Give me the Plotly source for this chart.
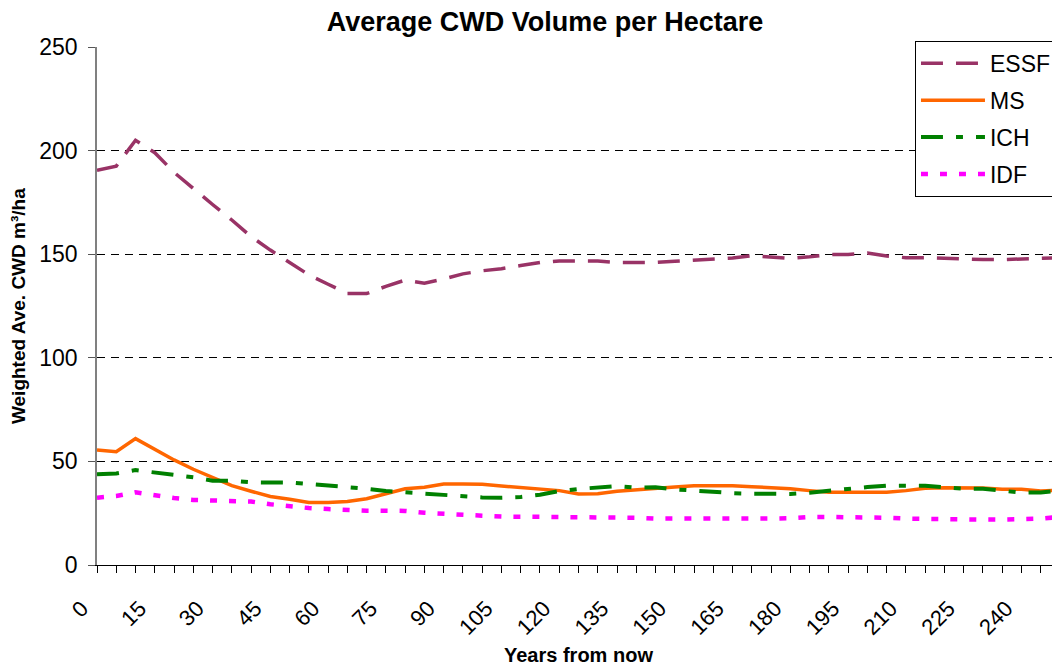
import plotly.graph_objects as go

years = [0, 5, 10, 15, 20, 25, 30, 35, 40, 45, 50, 55, 60, 65, 70, 75, 80, 85, 90, 95,
         100, 105, 110, 115, 120, 125, 130, 135, 140, 145, 150, 155, 160, 165, 170, 175,
         180, 185, 190, 195, 200, 205, 210, 215, 220, 225, 230, 235, 240, 245, 250]

essf = [190.5, 192.5, 205, 199, 189.5, 181.5, 174, 166.5, 158.5, 152, 146, 140, 135.5, 131, 131,
        134.5, 137.5, 136, 138, 140.5, 142, 143, 144.5, 146, 146.7, 146.8, 146.7, 146, 146, 146,
        146.6, 147.1, 147.7, 148.2, 149.3, 148.8, 148, 148.8, 149.8, 149.8, 150.6, 149.1, 148.3,
        148.3, 148, 147.4, 147.4, 147.4, 147.7, 148.3, 148.3]

ms = [55.5, 54.7, 61, 56, 50.7, 46.2, 42.3, 38.3, 35.6, 33.1, 31.7, 30.2, 30.2, 30.6, 32, 34.4,
      36.8, 37.5, 39.1, 39.1, 39, 38.1, 37.5, 36.7, 35.9, 34.3, 34.4, 35.6, 36.4, 37, 37.6, 38.3,
      38.3, 38.3, 37.8, 37.4, 36.8, 35.9, 35.1, 35.1, 35.1, 35.1, 35.9, 37, 37.3, 37.3, 37.2,
      36.5, 36.5, 35.7, 36.2]

ich = [43.8, 44.2, 45.8, 44.7, 43.4, 42.3, 40.7, 40.7, 39.9, 39.8, 39.8, 39.1, 38.3, 37.8, 36.8,
       35.7, 35.1, 34.4, 33.6, 33.2, 32.6, 32.5, 32.8, 33.9, 35.7, 36.7, 37.2, 38.1, 37.3, 37.5,
       36.5, 35.9, 34.9, 34.7, 34.4, 34.4, 34.3, 34.9, 35.9, 37, 37.6, 38.3, 38.3, 38.3, 37.5,
       36.8, 36.8, 35.9, 34.9, 35, 35.9]

idf = [32.5, 33.3, 35.1, 33.6, 32.3, 31.4, 31, 31, 30.6, 29.3, 28.3, 27.5, 27, 26.5, 26.2, 26.2,
       26.1, 25.2, 24.6, 24.1, 23.8, 23.4, 23.3, 23.3, 23.3, 23.3, 23.3, 23.2, 22.8, 22.4, 22.4,
       22, 22.2, 22.4, 22.4, 22.4, 22.6, 23.2, 23.2, 23.2, 23.2, 22.8, 22.4, 22.2, 21.9, 21.9,
       21.9, 21.9, 21.9, 22.4, 23.2]

x_ticks = [0, 15, 30, 45, 60, 75, 90, 105, 120, 135, 150, 165, 180, 195, 210, 225, 240]
y_ticks = [0, 50, 100, 150, 200, 250]

FONT = "Liberation Sans, Arial, sans-serif"

series = [
    ("ESSF", essf, "#993366", "22px,13px", 3.5),
    ("MS", ms, "#FF6600", "solid", 3.5),
    ("ICH", ich, "#008000", "22px,13px,7px,13px", 4),
    ("IDF", idf, "#FF00FF", "7px,12px", 4.5),
]

fig = go.Figure()
for name, vals, color, dash, w in series:
    fig.add_trace(go.Scatter(
        x=years, y=vals, name=name, mode="lines", legendgroup=name,
        line=dict(color=color, dash=dash, width=w),
    ))

# page body has an 8px default margin: figure is 1052x660, offset by 8px
fig.update_layout(
    width=1052, height=660,
    margin=dict(l=89, r=0, t=39, b=103, autoexpand=False),
    paper_bgcolor="white", plot_bgcolor="white",
    font=dict(family=FONT, color="black", size=22),
    title=dict(text="<b>Average CWD Volume per Hectare</b>", x=0.5105, xref="container",
               xanchor="center", y=0.98, yref="container", yanchor="middle",
               font=dict(size=27, family=FONT, color="black")),
    showlegend=True,
    legend=dict(x=0.8494, y=1.012, xanchor="left", yanchor="top",
                bordercolor="black", borderwidth=1, bgcolor="white",
                font=dict(size=23, family=FONT), tracegroupgap=4,
                traceorder="grouped", itemwidth=64),
    annotations=[
        dict(text="<b>Years from now</b>", xref="paper", yref="paper", x=0.5, y=-0.1737,
             xanchor="center", yanchor="middle", showarrow=False,
             font=dict(size=20, family=FONT, color="black")),
        dict(text="<b>Weighted Ave. CWD m³/ha</b>", xref="paper", yref="paper", x=-0.082, y=0.5,
             xanchor="center", yanchor="middle", textangle=-90, showarrow=False,
             font=dict(size=19, family=FONT, color="black")),
    ],
)

fig.update_xaxes(
    range=[0, 250], tickmode="array", tickvals=x_ticks, ticktext=[str(v) for v in x_ticks],
    tickangle=-45, ticks="outside", ticklen=7, tickcolor="black",
    minor=dict(dtick=5, tick0=0, ticks="outside", ticklen=7, tickcolor="black", showgrid=False),
    showline=True, linecolor="black", linewidth=1, showgrid=False, zeroline=False,
    tickfont=dict(size=22, family=FONT), automargin=False,
    ticklabelstandoff=14, ticklabelshift=-15,
)
fig.update_yaxes(
    range=[0, 250], tickmode="array", tickvals=y_ticks,
    ticks="outside", ticklen=7, tickcolor="#555555",
    showline=True, linecolor="#808080", linewidth=1.5,
    showgrid=True, gridcolor="black", gridwidth=1, griddash="8px,6px", zeroline=False,
    tickfont=dict(size=23, family=FONT), automargin=False, ticklabelstandoff=6,
)

fig.write_html("out.html")
